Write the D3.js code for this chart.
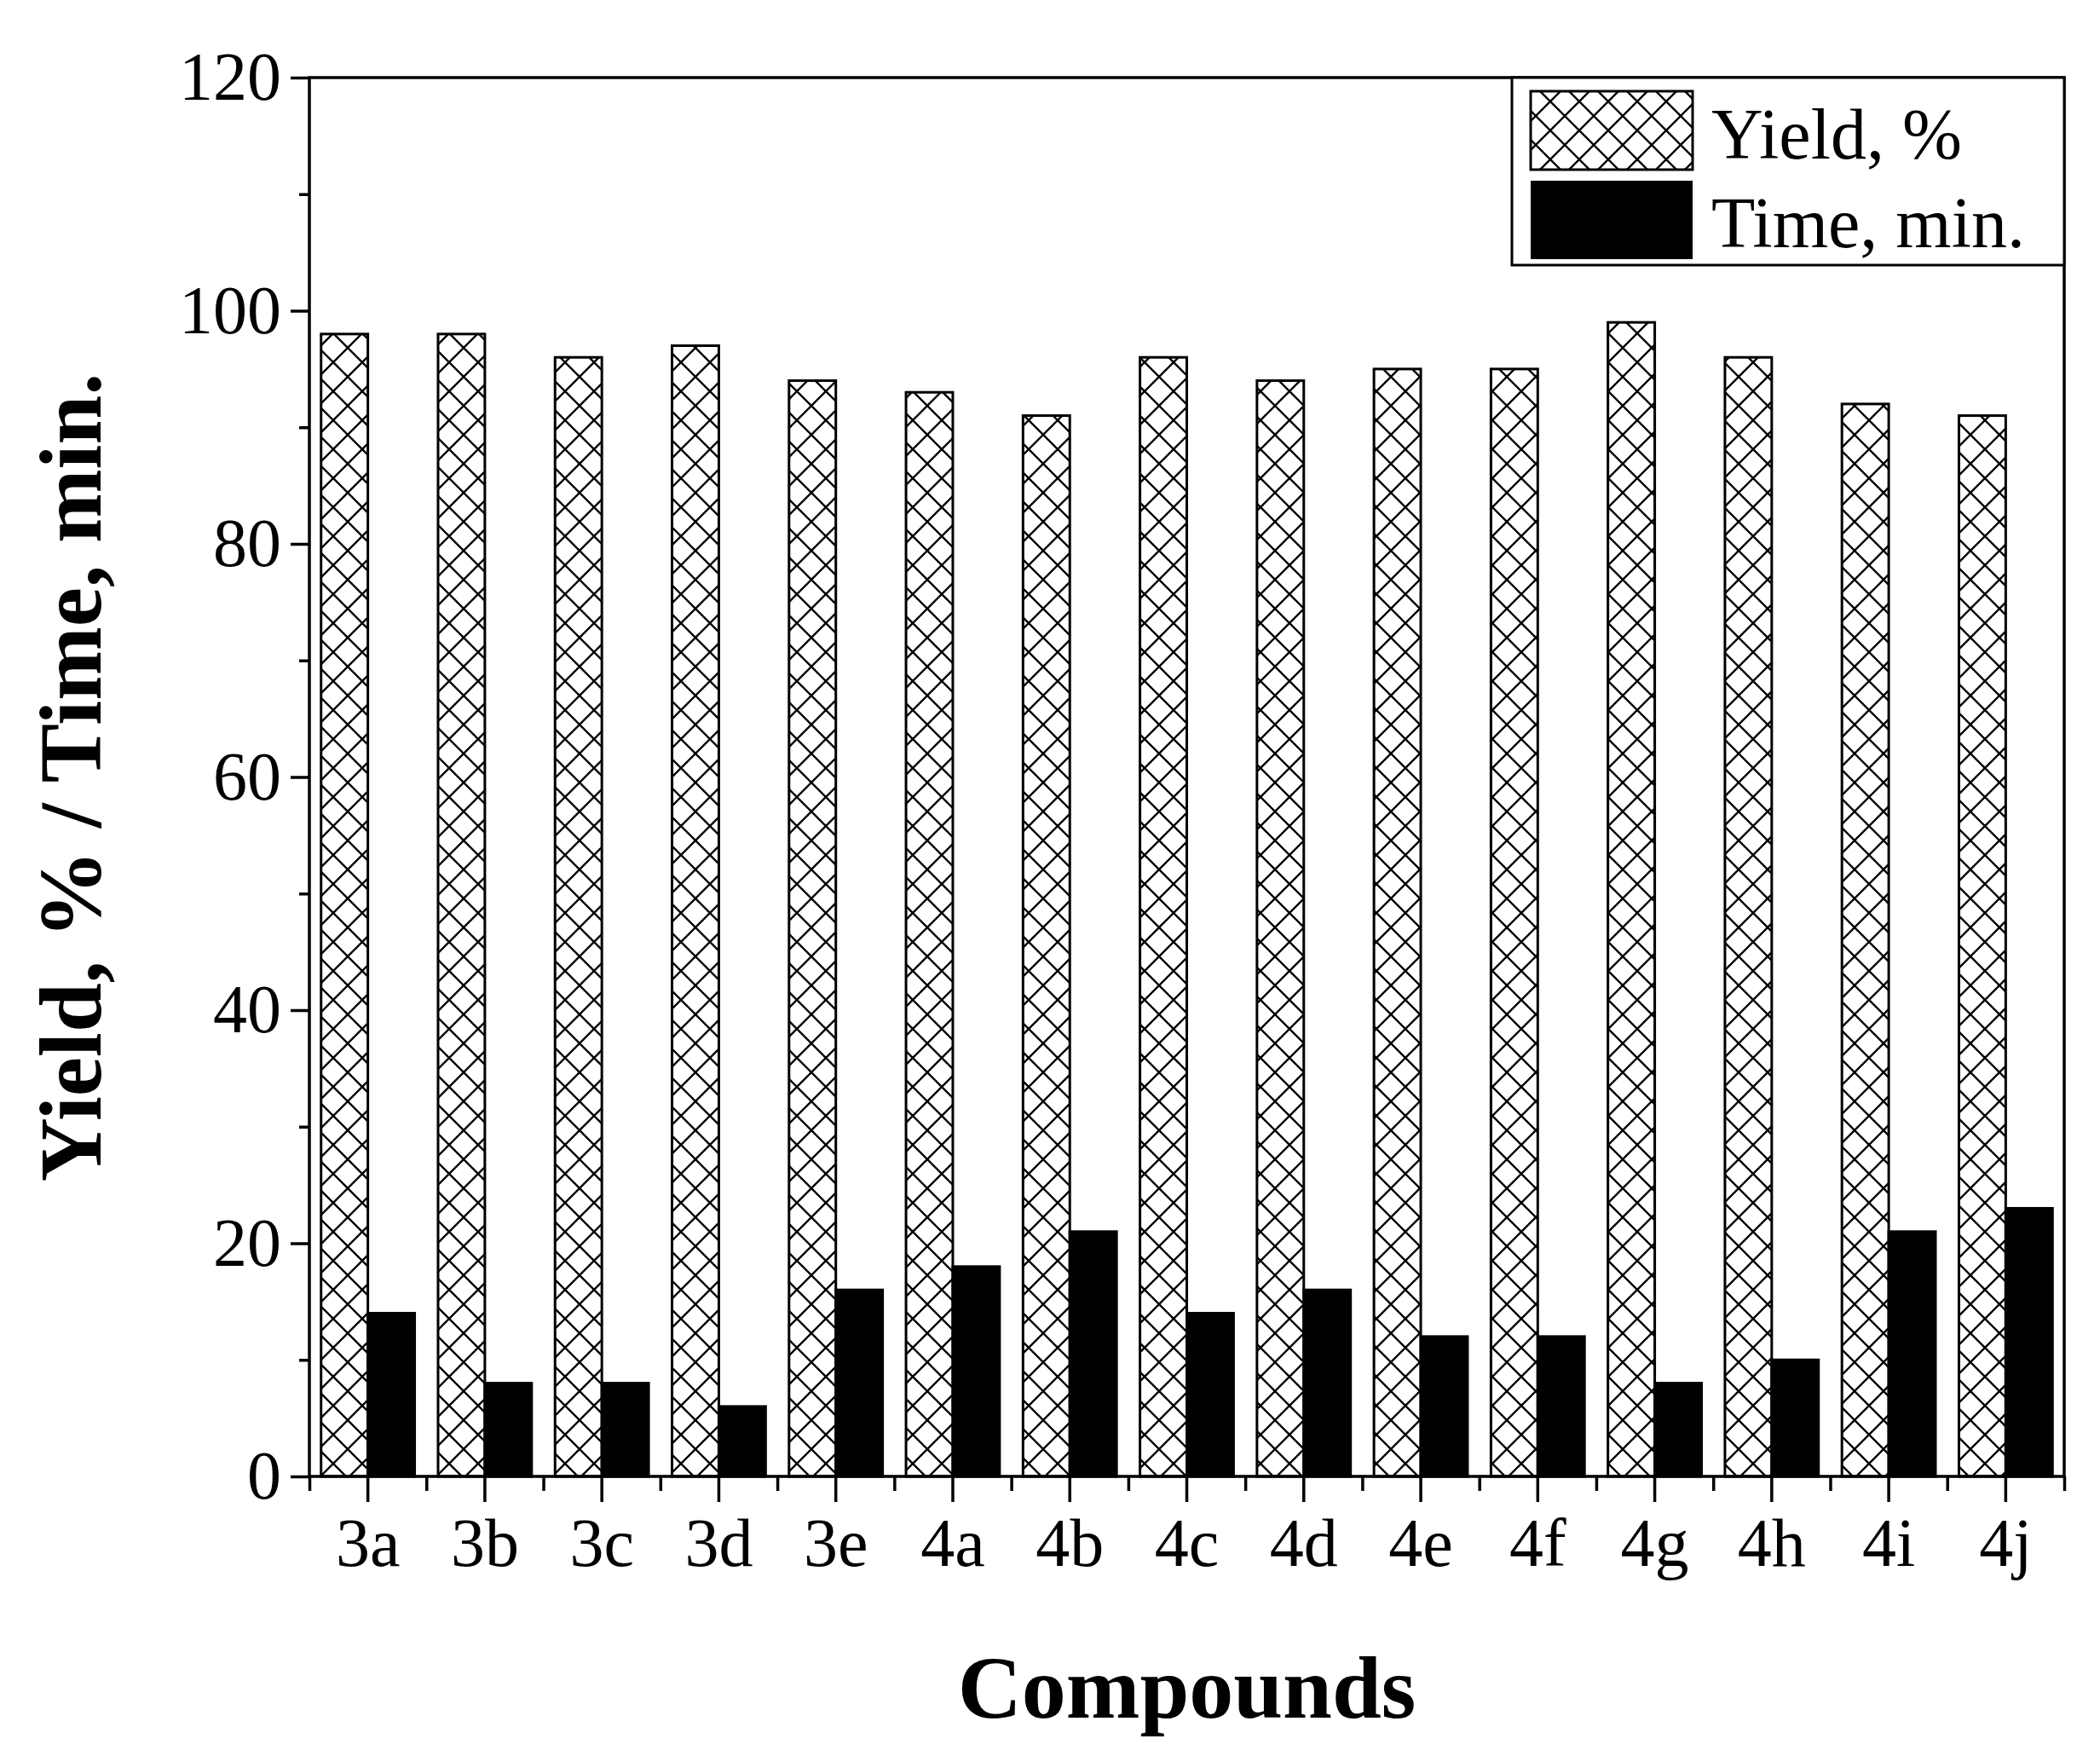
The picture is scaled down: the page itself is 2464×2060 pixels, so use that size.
<!DOCTYPE html><html><head><meta charset="utf-8"><script src="https://cdn.jsdelivr.net/npm/d3@7"></script>
<style>body{margin:0;background:#fff}</style></head><body><svg id="c" width="2464" height="2060"></svg><script>
const categories=["3a","3b","3c","3d","3e","4a","4b","4c","4d","4e","4f","4g","4h","4i","4j"];
const yieldVals=[98,98,96,97,94,93,91,96,94,95,95,99,96,92,91];
const timeVals=[14,8,8,6,16,18,21,14,16,12,12,8,10,21,23];
const yTicks=[0,20,40,60,80,100,120];
const svg=d3.select("#c"),F="Liberation Serif, Times New Roman, serif";
const L=363,R=2422,T=91,B=1732;
const defs=svg.append("defs");
const S=34;
const p=defs.append("pattern").attr("id","hatch").attr("patternUnits","userSpaceOnUse").attr("width",S).attr("height",S);
p.append("rect").attr("width",S).attr("height",S).attr("fill","#fff");
p.append("path").attr("d",`M0,0L${S},${S}M${S},0L0,${S}M-1,1L1,-1M${S-1},${S+1}L${S+1},${S-1}`).attr("stroke","#000").attr("stroke-width",2.4);
const x=d3.scaleBand().domain(categories).range([L,R]);
const y=d3.scaleLinear().domain([0,120]).range([B,T]);
const bw=x.bandwidth()*0.4;
const g=svg.append("g");
categories.forEach((c,i)=>{
 const cx=x(c)+x.bandwidth()/2;
 g.append("rect").attr("x",cx-bw).attr("y",y(yieldVals[i])).attr("width",bw).attr("height",B-y(yieldVals[i])).attr("fill","url(#hatch)").attr("stroke","#000").attr("stroke-width",3);
 g.append("rect").attr("x",cx).attr("y",y(timeVals[i])).attr("width",bw).attr("height",B-y(timeVals[i])).attr("fill","#000").attr("stroke","#000").attr("stroke-width",3);
});
svg.append("rect").attr("x",L).attr("y",T).attr("width",R-L).attr("height",B-T).attr("fill","none").attr("stroke","#000").attr("stroke-width",3.5);
const ya=svg.append("g").attr("transform",`translate(${L},0)`).call(d3.axisLeft(y).tickValues(yTicks).tickSize(22).tickSizeOuter(0));
ya.select(".domain").remove();
ya.selectAll("line").attr("stroke-width",3.5);
ya.selectAll("text").attr("font-family",F).attr("font-size",80).attr("dx",-8);
const ym=svg.append("g").attr("transform",`translate(${L},0)`).call(d3.axisLeft(y).tickValues(d3.range(10,120,20)).tickSize(12).tickFormat(""));
ym.select(".domain").remove();ym.selectAll("line").attr("stroke-width",3.5);
const xa=svg.append("g").attr("transform",`translate(0,${B})`).call(d3.axisBottom(x).tickSize(30).tickSizeOuter(0));
xa.select(".domain").remove();
xa.selectAll("line").attr("stroke-width",3.5);
xa.selectAll("text").attr("font-family",F).attr("font-size",80).attr("dy","0.9em");
const xm=svg.append("g").attr("transform",`translate(0,${B})`).call(d3.axisBottom(d3.scaleLinear().domain([0,15]).range([L,R])).tickValues(d3.range(0,16)).tickSize(17).tickFormat(""));
xm.select(".domain").remove();xm.selectAll("line").attr("stroke-width",3.5);
svg.append("text").attr("x",(L+R)/2).attr("y",2015).attr("text-anchor","middle").attr("font-family",F).attr("font-weight","bold").attr("font-size",104).text("Compounds");
svg.append("text").attr("transform","translate(118,912) rotate(-90)").attr("text-anchor","middle").attr("font-family",F).attr("font-weight","bold").attr("font-size",104).text("Yield, % / Time, min.");
const lg=svg.append("g");
lg.append("rect").attr("x",1774).attr("y",91).attr("width",648).attr("height",220).attr("fill","#fff").attr("stroke","#000").attr("stroke-width",3);
lg.append("rect").attr("x",1796).attr("y",107).attr("width",190).attr("height",92).attr("fill","url(#hatch)").attr("stroke","#000").attr("stroke-width",3);
lg.append("rect").attr("x",1796).attr("y",212).attr("width",190).attr("height",92).attr("fill","#000");
lg.append("text").attr("x",2008).attr("y",186).attr("font-family",F).attr("font-size",84).text("Yield, %");
lg.append("text").attr("x",2008).attr("y",290).attr("font-family",F).attr("font-size",84).text("Time, min.");
</script></body></html>
